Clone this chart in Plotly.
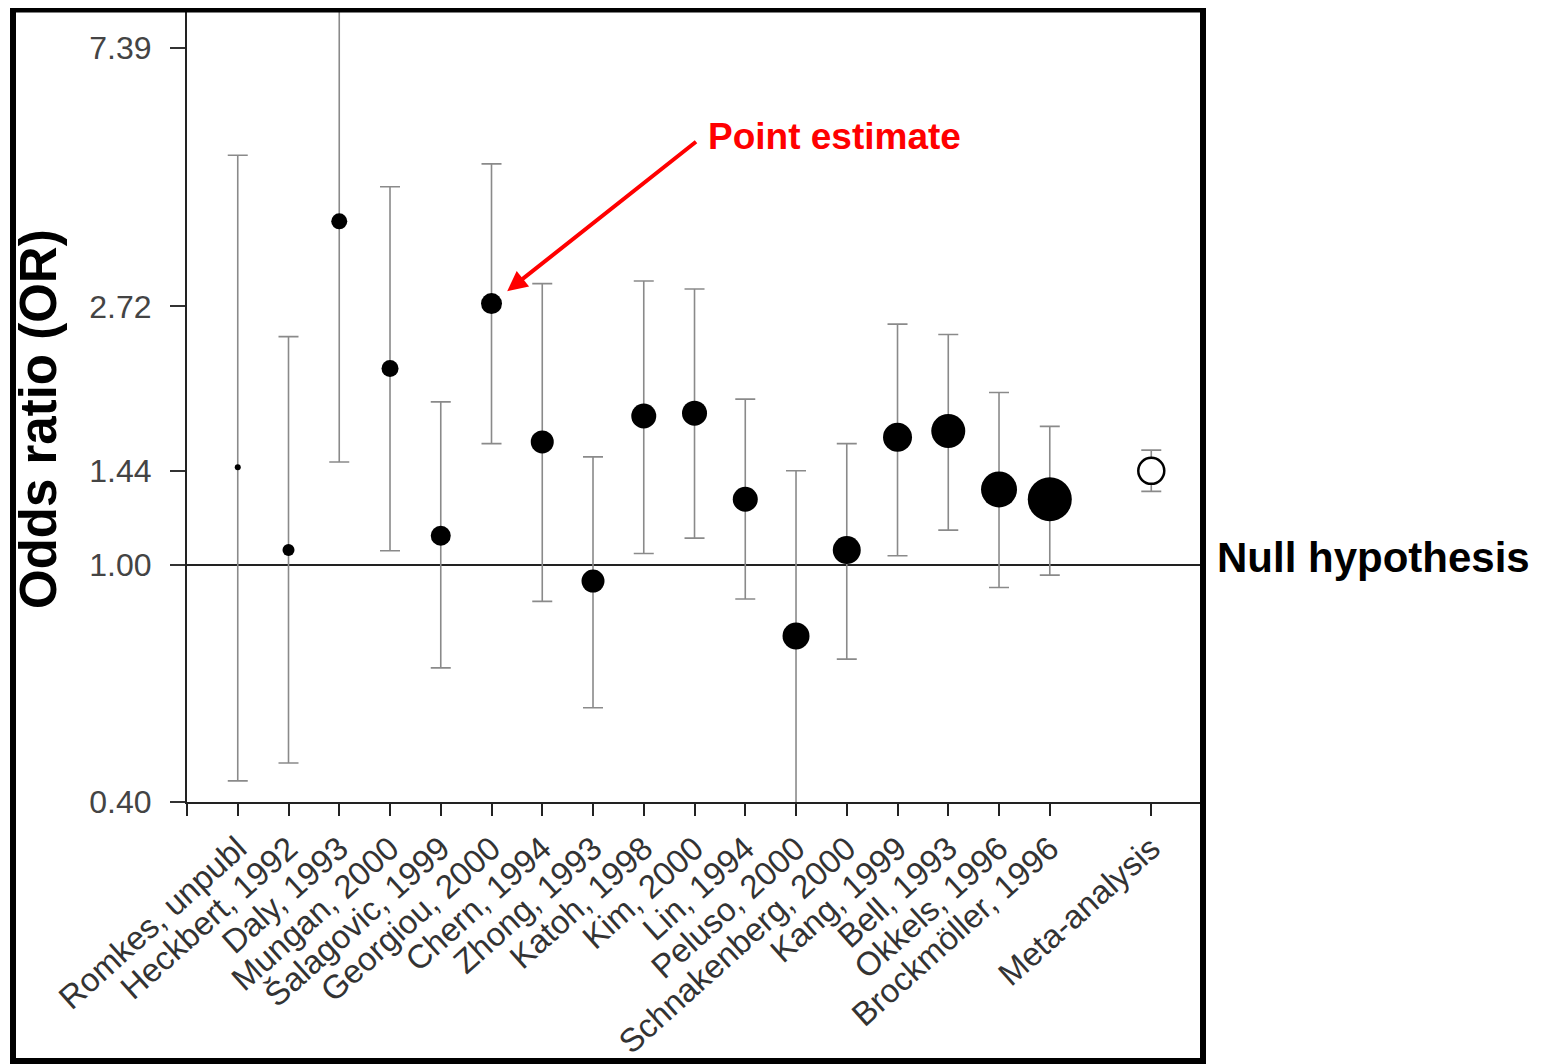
import plotly.graph_objects as go
import math

# ---------------- data ----------------
studies = ["Romkes, unpubl", "Heckbert, 1992", "Daly, 1993", "Mungan, 2000",
           "Šalagovic, 1999", "Georgiou, 2000", "Chern, 1994", "Zhong, 1993",
           "Katoh, 1998", "Kim, 2000", "Lin, 1994", "Peluso, 2000",
           "Schnakenberg, 2000", "Kang, 1999", "Bell, 1993", "Okkels, 1996",
           "Brockmöller, 1996"]
odds_ratio = [1.46, 1.06, 3.78, 2.14, 1.12, 2.75, 1.61, 0.94, 1.78, 1.80,
              1.29, 0.76, 1.06, 1.64, 1.68, 1.34, 1.29]
ci_upper = [4.88, 2.42, 12.0, 4.32, 1.88, 4.72, 2.97, 1.52, 3.00, 2.91,
            1.90, 1.44, 1.60, 2.54, 2.44, 1.95, 1.71]
ci_lower = [0.434, 0.465, 1.49, 1.057, 0.672, 1.60, 0.869, 0.576, 1.046, 1.11,
            0.877, 0.38, 0.695, 1.037, 1.145, 0.917, 0.962]
study_weight = [6, 12, 16, 17, 20, 21, 23, 23, 25, 25, 25, 27, 28, 29, 34, 36, 44]

meta_label = "Meta-analysis"
meta_or = 1.44
meta_upper = 1.56
meta_lower = 1.33

y_tick_values = [0.40, 1.00, 1.44, 2.72, 7.39]
y_tick_labels = ["0.40", "1.00", "1.44", "2.72", "7.39"]

# ---------------- figure ----------------
x_studies = list(range(len(studies)))
x_meta = len(studies) + 1

FONT = "Liberation Sans, Arial, Helvetica, sans-serif"
ERR_COLOR = "#8a8a8a"

fig = go.Figure()

fig.add_trace(go.Scatter(
    x=x_studies, y=odds_ratio, mode="markers",
    marker=dict(size=study_weight, color="black", opacity=1, line=dict(width=0)),
    error_y=dict(type="data", symmetric=False,
                 array=[u - o for u, o in zip(ci_upper, odds_ratio)],
                 arrayminus=[o - l for o, l in zip(odds_ratio, ci_lower)],
                 color=ERR_COLOR, thickness=1.6, width=10),
    showlegend=False, opacity=1,
))

fig.add_trace(go.Scatter(
    x=[x_meta], y=[meta_or], mode="markers",
    marker=dict(size=26, color="white", opacity=1, line=dict(width=2.5, color="black")),
    error_y=dict(type="data", symmetric=False,
                 array=[meta_upper - meta_or], arrayminus=[meta_or - meta_lower],
                 color=ERR_COLOR, thickness=1.6, width=10),
    showlegend=False, opacity=1,
))

# page body margin offset (page pixel = figure pixel + OFF)
OFF = 8
L, R, T, B = 187 - OFF, 1200 - OFF, 8 - OFF, 802 - OFF
W, H = 1545 - OFF, 1064 - OFF


def px_x(p):
    return (p - OFF - L) / (R - L)


def px_y(p):
    return (B - (p - OFF)) / (B - T)


# null hypothesis line at OR = 1
fig.add_shape(type="line", xref="paper", yref="y", x0=px_x(173), x1=1.0, y0=1.0, y1=1.0,
              line=dict(color="#222222", width=2), layer="below")

# outer thick frame
fig.add_shape(type="rect", xref="paper", yref="paper",
              x0=px_x(13), x1=px_x(1203), y0=px_y(1061), y1=px_y(9.5),
              line=dict(color="black", width=6), fillcolor="rgba(0,0,0,0)")

tick_vals = [-1] + x_studies + [x_meta]
tick_text = [""] + studies + [meta_label]

fig.update_xaxes(
    range=[-1, 18.96], tickmode="array", tickvals=tick_vals, ticktext=tick_text,
    tickangle=-42, ticks="outside", ticklen=12, tickwidth=2, tickcolor="#222222",
    showline=True, linewidth=2, linecolor="#222222", showgrid=False, zeroline=False,
    tickfont=dict(family=FONT, size=33, color="#333333"),
)
fig.update_yaxes(
    type="log", range=[math.log10(0.4), 0.9358],
    tickmode="array", tickvals=y_tick_values, ticktext=y_tick_labels,
    ticks="outside", ticklen=15, tickwidth=2, tickcolor="#333333",
    ticklabelstandoff=12,
    showline=True, linewidth=2, linecolor="#222222", showgrid=False, zeroline=False,
    tickfont=dict(family=FONT, size=32, color="#444444"),
)

annotations = [
    dict(text="<b>Odds ratio (OR)</b>", textangle=-90, xref="paper", yref="paper",
         x=px_x(38), y=px_y(419), xanchor="center", yanchor="middle", showarrow=False,
         font=dict(family=FONT, size=51, color="black")),
    dict(text="<b>Point estimate</b>", xref="paper", yref="paper",
         x=px_x(706), y=px_y(137), xanchor="left", yanchor="middle", showarrow=False,
         font=dict(family=FONT, size=37, color="#ff0000")),
    dict(text="<b>Null hypothesis</b>", xref="paper", yref="paper",
         x=px_x(1215), y=px_y(558), xanchor="left", yanchor="middle", showarrow=False,
         font=dict(family=FONT, size=42, color="black")),
    dict(text="", x=x_studies[5], y=math.log10(odds_ratio[5]), xref="x", yref="y",
         showarrow=True, ax=206, ay=-163, arrowhead=2, arrowsize=1, arrowwidth=4,
         arrowcolor="#ff0000", standoff=20),
]

fig.update_layout(
    width=W, height=H,
    margin=dict(l=L, r=W - R, t=T, b=H - B, pad=0),
    paper_bgcolor="white", plot_bgcolor="white",
    annotations=annotations,
    font=dict(family=FONT),
)

fig.write_html("out.html")
